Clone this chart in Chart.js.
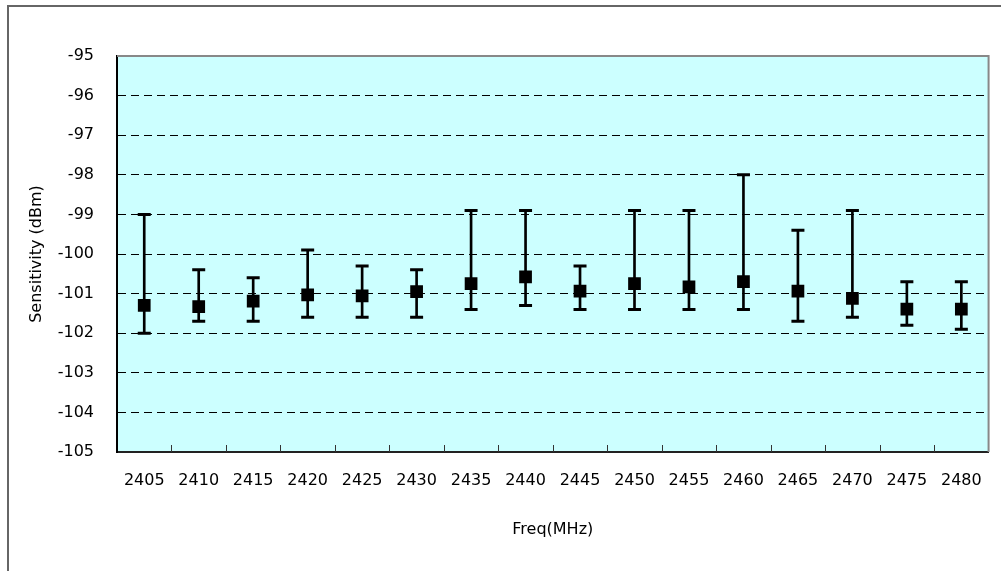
<!DOCTYPE html>
<html>
<head>
<meta charset="utf-8">
<script src="https://cdn.jsdelivr.net/npm/chart.js@4/dist/chart.umd.min.js"></script>
<style>
  html, body { margin: 0; padding: 0; background: #fff; overflow: hidden; }
  #wrap { position: relative; width: 1001px; height: 571px; }
  #frame { position: absolute; left: 7px; top: 5px; width: 1100px; height: 700px;
           border: 2px solid #666; pointer-events: none; }
</style>
</head>
<body>
<div id="wrap">
  <canvas id="sensChart"></canvas>
  <div id="frame"></div>
</div>
<script>
// canais (MHz) e valores (dBm)
const freqs = ['2405', '2410', '2415', '2420', '2425', '2430', '2435', '2440',
               '2445', '2450', '2455', '2460', '2465', '2470', '2475', '2480'];
const media = [-101.3, -101.33, -101.19, -101.03, -101.06, -100.95, -100.75, -100.58,
               -100.94, -100.75, -100.83, -100.7, -100.94, -101.12, -101.39, -101.39];
const maximo = [-99.0, -100.4, -100.6, -99.9, -100.3, -100.4, -98.9, -98.9,
                -100.3, -98.9, -98.9, -98.0, -99.4, -98.9, -100.7, -100.7];
const minimo = [-102.0, -101.7, -101.7, -101.6, -101.6, -101.6, -101.4, -101.3,
                -101.4, -101.4, -101.4, -101.4, -101.7, -101.6, -101.8, -101.9];
const yMin = -105, yMax = -95;

const FONTE = "'DejaVu Sans', Verdana, sans-serif";

// fundo ciano, borda cinza em cima/direita e marcas do eixo x para dentro
const areaPlugin = {
    id: 'areaPlugin',
    beforeDraw(chart) {
        const { ctx, chartArea: a } = chart;
        ctx.save();
        ctx.fillStyle = '#CCFFFF';
        ctx.fillRect(a.left, a.top, a.right - a.left, a.bottom - a.top);
        ctx.restore();
    },
    beforeDatasetsDraw(chart) {
        const { ctx, chartArea: a, scales } = chart;
        const x = scales.x;
        ctx.save();
        ctx.strokeStyle = '#888';
        ctx.lineWidth = 2;
        ctx.beginPath();
        ctx.moveTo(a.left, a.top);
        ctx.lineTo(a.right, a.top);
        ctx.lineTo(a.right, a.bottom);
        ctx.stroke();

        ctx.strokeStyle = '#333';
        ctx.lineWidth = 1;
        ctx.beginPath();
        for (let i = 1; i < freqs.length; i++) {
            const px = Math.round((x.getPixelForValue(i - 1) + x.getPixelForValue(i)) / 2) + 0.5;
            ctx.moveTo(px, a.bottom);
            ctx.lineTo(px, a.bottom - 7);
        }
        ctx.stroke();
        ctx.restore();
    }
};

new Chart(document.getElementById('sensChart'), {
    type: 'bar',
    data: {
        labels: freqs,
        datasets: [
            {
                type: 'line',
                label: 'Média',
                data: media,
                showLine: false,
                pointStyle: 'rect',
                pointRadius: 9,
                pointBorderWidth: 0,
                pointBackgroundColor: '#000',
                order: 0
            },
            {
                type: 'line',
                label: 'Máx',
                data: maximo,
                showLine: false,
                pointStyle: 'line',
                pointRadius: 6.5,
                pointBorderWidth: 3,
                pointBorderColor: '#000',
                order: 1
            },
            {
                type: 'line',
                label: 'Mín',
                data: minimo,
                showLine: false,
                pointStyle: 'line',
                pointRadius: 6.5,
                pointBorderWidth: 3,
                pointBorderColor: '#000',
                order: 1
            },
            {
                label: 'Faixa',
                data: minimo.map((v, i) => [v, maximo[i]]),
                backgroundColor: '#000',
                borderWidth: 0,
                barThickness: 2,
                order: 2
            }
        ]
    },
    options: {
        responsive: true,
        maintainAspectRatio: false,
        animation: false,
        layout: { padding: { left: 0, top: 56, right: 8, bottom: 0 } },
        plugins: { legend: { display: false }, tooltip: { enabled: false } },
        scales: {
            x: {
                grid: { display: false, drawTicks: false },
                border: { display: true, color: '#222', width: 2 },
                ticks: { color: '#000', padding: 19, font: { family: FONTE, size: 16 } },
                title: {
                    display: true, text: 'Freq(MHz)', color: '#000',
                    font: { family: FONTE, size: 16 },
                    padding: { top: 0, bottom: 32 }
                },
                afterFit: s => { s.height = 119; }
            },
            y: {
                min: yMin,
                max: yMax,
                grid: {
                    drawTicks: false,
                    lineWidth: 1,
                    color: c => (c.tick && (c.tick.value === yMin || c.tick.value === yMax)) ? 'rgba(0,0,0,0)' : '#000'
                },
                border: { display: true, color: '#000', width: 2, dash: [8, 5] },
                ticks: { stepSize: 1, color: '#000', padding: 23, font: { family: FONTE, size: 16 } },
                title: {
                    display: true, text: 'Sensitivity (dBm)', color: '#000',
                    font: { family: FONTE, size: 16 },
                    padding: { top: 27, bottom: 0 }
                },
                afterFit: s => { s.width = 117; }
            }
        }
    },
    plugins: [areaPlugin]
});
</script>
</body>
</html>
